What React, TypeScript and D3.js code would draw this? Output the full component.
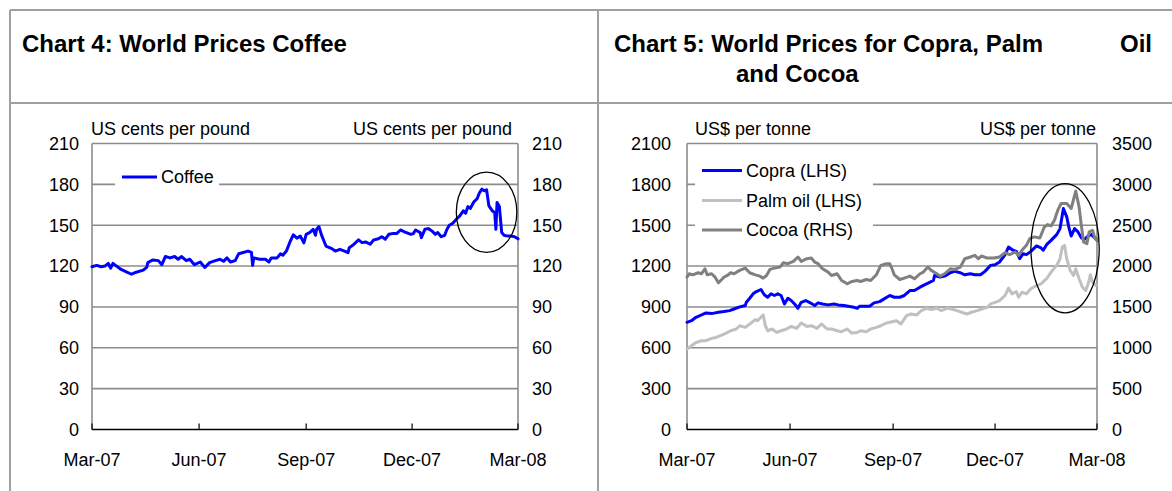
import React from "react";
import * as d3 from "d3";

type Pt = [string, number];

// Coffee, US cents per pound
const coffee: Pt[] = [
  ["2007-03-01", 119.5], ["2007-03-05", 120.5], ["2007-03-09", 119.5], ["2007-03-12", 120], ["2007-03-15", 122],
  ["2007-03-17", 118.5], ["2007-03-19", 122], ["2007-03-22", 120], ["2007-03-26", 117.5], ["2007-03-30", 116],
  ["2007-04-04", 114], ["2007-04-08", 115.5], ["2007-04-14", 117], ["2007-04-17", 119], ["2007-04-18", 122.5],
  ["2007-04-22", 124.5], ["2007-04-27", 124], ["2007-04-30", 121], ["2007-05-03", 127], ["2007-05-07", 126],
  ["2007-05-11", 127], ["2007-05-14", 125], ["2007-05-17", 127], ["2007-05-21", 124], ["2007-05-24", 125],
  ["2007-05-28", 121], ["2007-06-02", 123], ["2007-06-06", 119], ["2007-06-10", 122.5], ["2007-06-15", 124],
  ["2007-06-19", 125], ["2007-06-22", 123.5], ["2007-06-25", 126], ["2007-06-28", 123], ["2007-07-02", 124],
  ["2007-07-05", 129], ["2007-07-09", 130], ["2007-07-13", 131], ["2007-07-16", 130], ["2007-07-17", 120.5],
  ["2007-07-18", 126], ["2007-07-23", 125], ["2007-07-28", 125], ["2007-07-31", 123], ["2007-08-02", 126],
  ["2007-08-07", 126], ["2007-08-10", 129], ["2007-08-12", 128], ["2007-08-15", 131], ["2007-08-18", 137.5],
  ["2007-08-21", 143], ["2007-08-24", 140.5], ["2007-08-27", 142], ["2007-08-30", 137], ["2007-09-01", 143.3],
  ["2007-09-04", 144.6], ["2007-09-07", 147], ["2007-09-09", 142.6], ["2007-09-10", 147], ["2007-09-12", 149],
  ["2007-09-14", 143.3], ["2007-09-16", 139], ["2007-09-18", 134.7], ["2007-09-23", 132.8], ["2007-09-26", 131],
  ["2007-09-30", 132.3], ["2007-10-04", 131], ["2007-10-07", 129.8], ["2007-10-08", 133.5], ["2007-10-11", 135.2],
  ["2007-10-16", 139.2], ["2007-10-19", 137.2], ["2007-10-22", 137.7], ["2007-10-26", 136], ["2007-10-29", 139.2],
  ["2007-11-02", 140], ["2007-11-05", 141.6], ["2007-11-08", 139.7], ["2007-11-11", 143.3], ["2007-11-15", 144],
  ["2007-11-18", 144], ["2007-11-21", 146.5], ["2007-11-25", 145], ["2007-11-30", 143.3], ["2007-12-02", 143.8],
  ["2007-12-04", 146.5], ["2007-12-08", 144.6], ["2007-12-09", 140.9], ["2007-12-12", 147], ["2007-12-15", 147.5],
  ["2007-12-18", 145.8], ["2007-12-21", 143.3], ["2007-12-23", 144.6], ["2007-12-26", 141.6], ["2007-12-29", 142.6],
  ["2007-12-31", 147], ["2008-01-02", 150], ["2008-01-05", 151.5], ["2008-01-08", 154.4], ["2008-01-11", 156.9],
  ["2008-01-14", 160.5], ["2008-01-16", 158.8], ["2008-01-18", 163.7], ["2008-01-20", 162.3], ["2008-01-23", 167],
  ["2008-01-26", 169.6], ["2008-01-27", 172], ["2008-01-28", 174], ["2008-01-30", 176.5], ["2008-02-01", 175.3],
  ["2008-02-03", 176], ["2008-02-05", 164.2], ["2008-02-08", 160.5], ["2008-02-10", 159.3], ["2008-02-11", 147],
  ["2008-02-12", 166.7], ["2008-02-14", 163.7], ["2008-02-16", 144.6], ["2008-02-18", 142.6], ["2008-02-21", 142],
  ["2008-02-24", 142], ["2008-02-27", 141.6], ["2008-03-01", 140],
];

// Copra, US$ per tonne (left axis)
const copra: Pt[] = [
  ["2007-03-01", 787], ["2007-03-05", 799], ["2007-03-09", 824], ["2007-03-14", 841], ["2007-03-18", 856],
  ["2007-03-23", 851], ["2007-03-29", 861], ["2007-04-03", 866], ["2007-04-08", 873], ["2007-04-12", 885],
  ["2007-04-17", 900], ["2007-04-22", 910], ["2007-04-23", 934], ["2007-04-26", 964], ["2007-04-29", 996],
  ["2007-05-02", 1013], ["2007-05-06", 1028], ["2007-05-09", 989], ["2007-05-12", 971], ["2007-05-15", 996],
  ["2007-05-18", 984], ["2007-05-21", 996], ["2007-05-24", 984], ["2007-05-27", 922], ["2007-05-30", 964],
  ["2007-06-02", 947], ["2007-06-05", 922], ["2007-06-08", 890], ["2007-06-11", 934], ["2007-06-15", 947],
  ["2007-06-19", 930], ["2007-06-23", 910], ["2007-06-26", 930], ["2007-06-30", 922], ["2007-07-05", 915],
  ["2007-07-10", 922], ["2007-07-14", 915], ["2007-07-19", 910], ["2007-07-23", 905], ["2007-07-28", 897],
  ["2007-07-31", 890], ["2007-08-02", 905], ["2007-08-06", 905], ["2007-08-11", 905], ["2007-08-15", 930],
  ["2007-08-20", 939], ["2007-08-24", 959], ["2007-08-29", 984], ["2007-09-02", 971], ["2007-09-07", 971],
  ["2007-09-11", 984], ["2007-09-16", 1020], ["2007-09-20", 1020], ["2007-09-25", 1045], ["2007-09-29", 1062],
  ["2007-10-04", 1082], ["2007-10-07", 1094], ["2007-10-08", 1131], ["2007-10-13", 1119], ["2007-10-17", 1126],
  ["2007-10-22", 1151], ["2007-10-26", 1161], ["2007-10-31", 1151], ["2007-11-04", 1136], ["2007-11-09", 1143],
  ["2007-11-13", 1136], ["2007-11-18", 1136], ["2007-11-22", 1161], ["2007-11-27", 1205], ["2007-12-01", 1210],
  ["2007-12-05", 1230], ["2007-12-10", 1284], ["2007-12-13", 1340], ["2007-12-17", 1316], ["2007-12-20", 1308],
  ["2007-12-23", 1254], ["2007-12-26", 1291], ["2007-12-29", 1284], ["2008-01-02", 1308], ["2008-01-07", 1348],
  ["2008-01-11", 1333], ["2008-01-13", 1316], ["2008-01-16", 1357], ["2008-01-20", 1389], ["2008-01-25", 1431],
  ["2008-01-28", 1475], ["2008-01-30", 1574], ["2008-01-31", 1623], ["2008-02-03", 1561], ["2008-02-05", 1480],
  ["2008-02-07", 1421], ["2008-02-10", 1475], ["2008-02-13", 1451], ["2008-02-16", 1407], ["2008-02-19", 1397],
  ["2008-02-22", 1421], ["2008-02-25", 1431], ["2008-02-28", 1407], ["2008-03-01", 1389],
];

// Palm oil, US$ per tonne (left axis)
const palmOil: Pt[] = [
  ["2007-03-01", 590], ["2007-03-05", 615], ["2007-03-09", 639], ["2007-03-14", 652], ["2007-03-18", 652],
  ["2007-03-23", 669], ["2007-03-27", 676], ["2007-04-01", 693], ["2007-04-05", 708], ["2007-04-09", 725],
  ["2007-04-14", 738], ["2007-04-17", 762], ["2007-04-22", 750], ["2007-04-26", 775], ["2007-05-01", 807],
  ["2007-05-03", 799], ["2007-05-06", 824], ["2007-05-08", 841], ["2007-05-10", 762], ["2007-05-12", 725],
  ["2007-05-16", 738], ["2007-05-20", 713], ["2007-05-24", 725], ["2007-05-29", 738], ["2007-06-02", 757],
  ["2007-06-07", 743], ["2007-06-11", 782], ["2007-06-16", 757], ["2007-06-20", 762], ["2007-06-25", 743],
  ["2007-06-29", 775], ["2007-07-04", 738], ["2007-07-08", 738], ["2007-07-13", 725], ["2007-07-17", 718],
  ["2007-07-22", 738], ["2007-07-26", 708], ["2007-07-31", 713], ["2007-08-03", 725], ["2007-08-08", 718],
  ["2007-08-12", 738], ["2007-08-17", 750], ["2007-08-21", 762], ["2007-08-26", 782], ["2007-08-29", 787],
  ["2007-09-04", 799], ["2007-09-08", 775], ["2007-09-13", 836], ["2007-09-17", 848], ["2007-09-22", 841],
  ["2007-09-26", 873], ["2007-10-01", 890], ["2007-10-05", 880], ["2007-10-10", 890], ["2007-10-14", 873],
  ["2007-10-19", 890], ["2007-10-23", 885], ["2007-10-28", 873], ["2007-11-01", 861], ["2007-11-06", 848],
  ["2007-11-10", 861], ["2007-11-15", 873], ["2007-11-19", 885], ["2007-11-24", 897], ["2007-11-27", 922],
  ["2007-12-01", 934], ["2007-12-05", 947], ["2007-12-10", 984], ["2007-12-13", 1038], ["2007-12-16", 996],
  ["2007-12-20", 1013], ["2007-12-22", 971], ["2007-12-25", 1008], ["2007-12-29", 996], ["2008-01-02", 1033],
  ["2008-01-07", 1057], ["2008-01-11", 1070], ["2008-01-16", 1107], ["2008-01-20", 1156], ["2008-01-25", 1205],
  ["2008-01-28", 1254], ["2008-01-30", 1340], ["2008-02-01", 1352], ["2008-02-03", 1254], ["2008-02-06", 1168],
  ["2008-02-09", 1131], ["2008-02-11", 1180], ["2008-02-14", 1107], ["2008-02-17", 1045], ["2008-02-20", 1020],
  ["2008-02-23", 1094], ["2008-02-24", 1136], ["2008-02-26", 1082], ["2008-02-29", 1057],
];

// Cocoa, US$ per tonne (right axis)
const cocoa: Pt[] = [
  ["2007-03-01", 1865], ["2007-03-03", 1906], ["2007-03-06", 1893], ["2007-03-11", 1918], ["2007-03-14", 1906],
  ["2007-03-17", 1967], ["2007-03-19", 1893], ["2007-03-23", 1906], ["2007-03-26", 1865], ["2007-03-29", 1795],
  ["2007-04-01", 1836], ["2007-04-03", 1865], ["2007-04-06", 1885], ["2007-04-09", 1918], ["2007-04-12", 1906],
  ["2007-04-17", 1947], ["2007-04-22", 1975], ["2007-04-26", 1918], ["2007-05-01", 1893], ["2007-05-05", 1877],
  ["2007-05-08", 1852], ["2007-05-11", 1885], ["2007-05-14", 1959], ["2007-05-18", 1975], ["2007-05-23", 1988],
  ["2007-05-26", 2041], ["2007-05-30", 2029], ["2007-06-04", 2057], ["2007-06-08", 2111], ["2007-06-11", 2057],
  ["2007-06-16", 2090], ["2007-06-20", 2098], ["2007-06-23", 2049], ["2007-06-26", 2029], ["2007-06-30", 1967],
  ["2007-07-05", 1926], ["2007-07-08", 1885], ["2007-07-13", 1906], ["2007-07-17", 1824], ["2007-07-22", 1783],
  ["2007-07-26", 1811], ["2007-07-31", 1824], ["2007-08-03", 1811], ["2007-08-08", 1836], ["2007-08-12", 1824],
  ["2007-08-17", 1893], ["2007-08-21", 2008], ["2007-08-26", 2029], ["2007-08-29", 2029], ["2007-08-31", 1967],
  ["2007-09-02", 1893], ["2007-09-07", 1836], ["2007-09-11", 1852], ["2007-09-16", 1877], ["2007-09-20", 1844],
  ["2007-09-25", 1906], ["2007-09-28", 1926], ["2007-10-02", 1988], ["2007-10-05", 1947], ["2007-10-10", 1906],
  ["2007-10-13", 1877], ["2007-10-17", 1906], ["2007-10-22", 1967], ["2007-10-26", 1959], ["2007-10-31", 1988],
  ["2007-11-04", 2090], ["2007-11-09", 2111], ["2007-11-13", 2131], ["2007-11-16", 2090], ["2007-11-19", 2123],
  ["2007-11-24", 2098], ["2007-11-30", 2098], ["2007-12-05", 2111], ["2007-12-10", 2164], ["2007-12-14", 2139],
  ["2007-12-19", 2172], ["2007-12-22", 2131], ["2007-12-25", 2193], ["2007-12-29", 2254], ["2008-01-01", 2336],
  ["2008-01-05", 2357], ["2008-01-10", 2344], ["2008-01-14", 2479], ["2008-01-17", 2508], ["2008-01-20", 2492],
  ["2008-01-23", 2561], ["2008-01-26", 2684], ["2008-01-29", 2766], ["2008-02-03", 2766], ["2008-02-07", 2705],
  ["2008-02-11", 2918], ["2008-02-14", 2725], ["2008-02-16", 2500], ["2008-02-18", 2295], ["2008-02-21", 2275],
  ["2008-02-23", 2418], ["2008-02-26", 2438], ["2008-02-28", 2344], ["2008-03-01", 2316],
];

const coffeeTicks = [0, 30, 60, 90, 120, 150, 180, 210];
const lhsTicks = [0, 300, 600, 900, 1200, 1500, 1800, 2100];
const rhsTicks = [0, 500, 1000, 1500, 2000, 2500, 3000, 3500];
const monthTicks: [string, string][] = [
  ["2007-03-01", "Mar-07"], ["2007-06-01", "Jun-07"], ["2007-09-01", "Sep-07"],
  ["2007-12-01", "Dec-07"], ["2008-03-01", "Mar-08"],
];
const period: [string, string] = ["2007-03-01", "2008-03-01"];

// circled recent-price spikes: date span and value span on the left axis
const coffeeSpike = { from: "2008-01-08", to: "2008-02-29", low: 130, high: 189 };
const oilsSpike = { from: "2008-01-02", to: "2008-03-03", low: 857, high: 1806 };

const FONT = "'Liberation Sans', Arial, Helvetica, sans-serif";
const GRID = "#8c8c8c";
const BORDER = "#a0a0a0";
const BLUE = "#0000ff";
const LIGHT = "#c0c0c0";
const DARK = "#808080";

const parse = d3.timeParse("%Y-%m-%d");
const dt = (s: string) => parse(s) as Date;

type Lin = d3.ScaleLinear<number, number>;
type Tim = d3.ScaleTime<number, number>;

function Frame({ x, y, ticks }: { x: Tim; y: Lin; ticks: number[] }) {
  const [xa, xb] = x.range();
  const [yb, ya] = y.range();
  return (
    <g>
      {ticks.filter((t) => t > 0).map((t) => (
        <line key={t} x1={xa} x2={xb} y1={y(t)} y2={y(t)} stroke={GRID} strokeWidth={1.6} />
      ))}
      <line x1={xa} x2={xa} y1={ya} y2={yb} stroke={GRID} strokeWidth={1.6} />
      <line x1={xb} x2={xb} y1={ya} y2={yb} stroke={GRID} strokeWidth={1.6} />
      <line x1={xa} x2={xb} y1={yb} y2={yb} stroke="#000" strokeWidth={1.6} />
      {monthTicks.map(([d]) => (
        <line key={d} x1={x(dt(d))} x2={x(dt(d))} y1={yb} y2={yb - 6} stroke="#000" strokeWidth={1.2} />
      ))}
      {monthTicks.map(([d, label]) => (
        <text key={label} x={x(dt(d))} y={466} textAnchor="middle" fontSize={18}>{label}</text>
      ))}
    </g>
  );
}

function YLabels({ y, ticks, x, anchor }: { y: Lin; ticks: number[]; x: number; anchor: "start" | "end" }) {
  return (
    <g>
      {ticks.map((t) => (
        <text key={t} x={x} y={y(t)} dy="0.35em" textAnchor={anchor} fontSize={18}>{t}</text>
      ))}
    </g>
  );
}

function Series({ data, x, y, color }: { data: Pt[]; x: Tim; y: Lin; color: string }) {
  const line = d3.line<Pt>().x((d) => x(dt(d[0]))).y((d) => y(d[1]));
  return <path d={line(data) ?? ""} fill="none" stroke={color} strokeWidth={3} strokeLinejoin="round" strokeLinecap="round" />;
}

function Spike({ x, y, s }: { x: Tim; y: Lin; s: { from: string; to: string; low: number; high: number } }) {
  const x0 = x(dt(s.from)), x1 = x(dt(s.to));
  const y0 = y(s.high), y1 = y(s.low);
  return <ellipse cx={(x0 + x1) / 2} cy={(y0 + y1) / 2} rx={(x1 - x0) / 2} ry={(y1 - y0) / 2} fill="none" stroke="#000" strokeWidth={1.3} />;
}

export default function App() {
  const W = 1172, H = 491;
  const top = 143.5, bottom = 429.5;

  const x4 = d3.scaleTime().domain(period.map(dt)).range([92, 518]);
  const y4 = d3.scaleLinear().domain([0, 210]).range([bottom, top]);

  const x5 = d3.scaleTime().domain(period.map(dt)).range([687, 1097]);
  const yL = d3.scaleLinear().domain([0, 2100]).range([bottom, top]);
  const yR = d3.scaleLinear().domain([0, 3500]).range([bottom, top]);

  const legend5: [string, string, number][] = [
    ["Copra (LHS)", BLUE, 170.5],
    ["Palm oil (LHS)", LIGHT, 200.5],
    ["Cocoa (RHS)", DARK, 230],
  ];

  return (
    <svg width={W} height={H} viewBox={`0 0 ${W} ${H}`}
      style={{ position: "absolute", left: 0, top: 0, background: "#fff" }}
      fontFamily={FONT} fill="#000">
      <rect x={0} y={0} width={W} height={H} fill="#fff" />

      {/* panel borders */}
      <line x1={10} x2={W} y1={10} y2={10} stroke={BORDER} strokeWidth={2} />
      <line x1={10} x2={W} y1={103} y2={103} stroke={BORDER} strokeWidth={2} />
      <line x1={10} x2={10} y1={10} y2={H} stroke={BORDER} strokeWidth={2} />
      <line x1={598} x2={598} y1={10} y2={H} stroke={BORDER} strokeWidth={2} />

      {/* titles */}
      <text x={22} y={52} fontSize={24} fontWeight="bold">Chart 4: World Prices Coffee</text>
      <text x={614} y={52} fontSize={24} fontWeight="bold">Chart 5: World Prices for Copra, Palm</text>
      <text x={1152} y={52} fontSize={24} fontWeight="bold" textAnchor="end">Oil</text>
      <text x={736} y={82} fontSize={24} fontWeight="bold">and Cocoa</text>

      {/* Chart 4: coffee */}
      <Frame x={x4} y={y4} ticks={coffeeTicks} />
      <YLabels y={y4} ticks={coffeeTicks} x={79} anchor="end" />
      <YLabels y={y4} ticks={coffeeTicks} x={532} anchor="start" />
      <text x={91} y={135} fontSize={18}>US cents per pound</text>
      <text x={512} y={135} fontSize={18} textAnchor="end">US cents per pound</text>
      <rect x={115} y={162} width={104} height={32} fill="#fff" />
      <line x1={122} x2={157} y1={177} y2={177} stroke={BLUE} strokeWidth={3} />
      <text x={161} y={177} dy="0.35em" fontSize={18}>Coffee</text>
      <Series data={coffee} x={x4} y={y4} color={BLUE} />
      <Spike x={x4} y={y4} s={coffeeSpike} />

      {/* Chart 5: copra, palm oil, cocoa */}
      <Frame x={x5} y={yL} ticks={lhsTicks} />
      <YLabels y={yL} ticks={lhsTicks} x={671} anchor="end" />
      <YLabels y={yR} ticks={rhsTicks} x={1112} anchor="start" />
      <text x={695} y={135} fontSize={18}>US$ per tonne</text>
      <text x={1096} y={135} fontSize={18} textAnchor="end">US$ per tonne</text>
      <rect x={695} y={153} width={178} height={92} fill="#fff" />
      {legend5.map(([label, color, ly]) => (
        <g key={label}>
          <line x1={702} x2={742} y1={ly} y2={ly} stroke={color} strokeWidth={3} />
          <text x={746} y={ly} dy="0.35em" fontSize={18}>{label}</text>
        </g>
      ))}
      <Series data={copra} x={x5} y={yL} color={BLUE} />
      <Series data={palmOil} x={x5} y={yL} color={LIGHT} />
      <Series data={cocoa} x={x5} y={yR} color={DARK} />
      <Spike x={x5} y={yL} s={oilsSpike} />
    </svg>
  );
}
